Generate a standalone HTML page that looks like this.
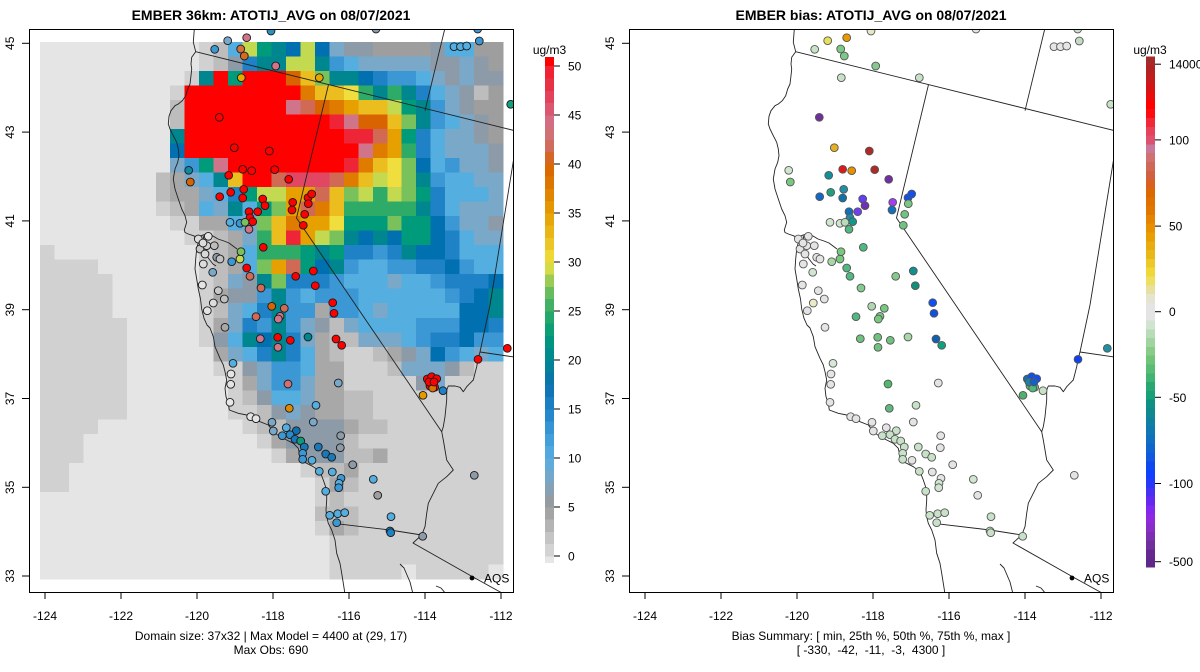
<!DOCTYPE html>
<html><head><meta charset="utf-8"><style>
html,body{margin:0;padding:0;background:#fff;}
svg{display:block;}
text{font-family:"Liberation Sans",Arial,sans-serif;fill:#000;}
</style></head><body>
<svg id="s" xmlns="http://www.w3.org/2000/svg" width="1200" height="672" viewBox="0 0 1200 672">
<defs><clipPath id="clipL"><rect x="29" y="29" width="484" height="563"/></clipPath></defs>
<rect width="1200" height="672" fill="#fff"/>
<g clip-path="url(#clipL)"><g id="grid" shape-rendering="crispEdges"></g><g id="linesL"></g><g id="dotsL"></g></g>
<g transform="translate(600,0)" clip-path="url(#clipL)"><g id="linesR"></g><g id="dotsR"></g></g>
<g id="aqs"></g>
<rect x="29.5" y="29.5" width="484" height="563" fill="none" stroke="#000" stroke-width="1"/>
<rect x="629.5" y="29.5" width="484" height="563" fill="none" stroke="#000" stroke-width="1"/>
<g id="ticks" stroke="#000" stroke-width="1"></g>
<g id="cbL" shape-rendering="crispEdges"></g>
<g id="cbR" shape-rendering="crispEdges"></g>
<text x="271" y="20" font-size="14" font-weight="bold" text-anchor="middle">EMBER 36km: ATOTIJ_AVG on 08/07/2021</text>
<text x="871" y="20" font-size="14" font-weight="bold" text-anchor="middle">EMBER bias: ATOTIJ_AVG on 08/07/2021</text>
<g font-size="12" text-anchor="middle">
<text x="45" y="620">-124</text><text x="121" y="620">-122</text><text x="197" y="620">-120</text><text x="273" y="620">-118</text><text x="349" y="620">-116</text><text x="425" y="620">-114</text><text x="501" y="620">-112</text>
<text x="645" y="620">-124</text><text x="721" y="620">-122</text><text x="797" y="620">-120</text><text x="873" y="620">-118</text><text x="949" y="620">-116</text><text x="1025" y="620">-114</text><text x="1101" y="620">-112</text>
<text transform="translate(14,43.3) rotate(-90)">45</text><text transform="translate(14,132.1) rotate(-90)">43</text><text transform="translate(14,220.9) rotate(-90)">41</text><text transform="translate(14,309.7) rotate(-90)">39</text><text transform="translate(14,398.5) rotate(-90)">37</text><text transform="translate(14,487.3) rotate(-90)">35</text><text transform="translate(14,576) rotate(-90)">33</text>
<text transform="translate(614,43.3) rotate(-90)">45</text><text transform="translate(614,132.1) rotate(-90)">43</text><text transform="translate(614,220.9) rotate(-90)">41</text><text transform="translate(614,309.7) rotate(-90)">39</text><text transform="translate(614,398.5) rotate(-90)">37</text><text transform="translate(614,487.3) rotate(-90)">35</text><text transform="translate(614,576) rotate(-90)">33</text>
<text x="271" y="640">Domain size: 37x32 | Max Model = 4400 at (29, 17)</text>
<text x="271" y="654">Max Obs: 690</text>
<text x="871" y="640">Bias Summary: [ min, 25th %, 50th %, 75th %, max ]</text>
<text x="871" y="654" style="white-space:pre">[ -330,  -42,  -11,  -3,  4300 ]</text>
<text x="549.5" y="54">ug/m3</text>
<text x="1150" y="54">ug/m3</text>
</g>
<g font-size="12">
<text x="484" y="582.5">AQS</text><text x="1084" y="582.5">AQS</text>
<text x="568" y="70.5">50</text><text x="568" y="119.5">45</text><text x="568" y="168.5">40</text><text x="568" y="217.5">35</text><text x="568" y="266.5">30</text><text x="568" y="315.5">25</text><text x="568" y="364.5">20</text><text x="568" y="413.5">15</text><text x="568" y="462.5">10</text><text x="568" y="511.5">5</text><text x="568" y="560.5">0</text>
<text x="1169" y="68.5">14000</text><text x="1169" y="144.5">100</text><text x="1169" y="230.5">50</text><text x="1169" y="316">0</text><text x="1169" y="402">-50</text><text x="1169" y="488">-100</text><text x="1169" y="566">-500</text>
</g>
</svg>
<script>
(function(){
var P={L:'#e5e5e5',W:'#d1d1d1',H:'#bdbdbd',M:'#a8a8a8',N:'#9e9e9e',S:'#8d9ba8',a:'#79a8c8',b:'#55aee0',c:'#3b98d5',d:'#1f82c6',e:'#0070b1',t:'#00868f',u:'#009b7a',g:'#2fab68',h:'#79c15a',i:'#c3d950',y:'#efde3e',j:'#ebbd1f',o:'#e6a000',p:'#df7c00',q:'#d86300',r:'#d06a55',s:'#cf7489',v:'#e14763',w:'#ee2537',R:'#ff0000'};
var G=[
"LLLLLLLLLLLWHbiuteieaSSNNNNSbbNN",
"LLLLLLLLLLLWHSdttiitcbaaaaaSSaSN",
"LLLLLLLLLLWtRuRRRqjhttedccbaSaSS",
"LLLLLLLLLWRRRRRRRRpjjygtgtdbaSHN",
"LLLLLLLLLHRRRRRRRsrqpojjiutcaSNN",
"LLLLLLLLLHRRRRRRRRRRwsqqjhtcbaSN",
"LLLLLLLLLtRRRRRRRRRRRwwroudbaaSN",
"LLLLLLLLLeRRRRRRRRRRRRspogdbaaaS",
"LLLLLLLLLacusRRRRRRRRwpjyhebcaaS",
"LLLLLLLLHMabtjRRrvvvrpjiyhtcbbaa",
"LLLLLLLLHMMabduiioorjhigihudbbba",
"LLLLLLLLWHMbatbuhorpjgggggtdbaaa",
"LLLLLLLLLWWMMbahjpooyuuuhuuecaaS",
"LLLLLLLLLLWWHMagjwoihteteuuedbaa",
"WLLLLLLLLLLWHMbgggutuddcdteedbbb",
"WWWWLLLLLLLWHMbhoruetcbbccddecbb",
"WWWWWLLLLLLWHaSthdddcbbbabbcddde",
"WWWWWLLLLLLWMSSctcbcccbbbbbbcdet",
"WWWWWLLLLLLWHabdtccMccbabbbbbeet",
"WWWWWWLLLLLWMadctcaSHabbbbccceed",
"WWWWWWLLLLLWSbtetdaMHHaaabcddecc",
"WWWWWWLLLLLLMabdtdbMHWWHMSaecbab",
"WWWWWWLLLLLLWWSaccbMMWWWHaaaSHWW",
"WWWWWWLLLLLLLWMaccaMMWWWWWSaWWWW",
"WWWWWWLLLLLLLWHSbbaMMHHWWWWWWWWW",
"WWWWWWLLLLLLLWWHSaSMMHHWWWWWWWWW",
"WWWWLLLLLLLLLLWHHSSSSMHHWWWWWWWW",
"WWWLLLLLLLLLLLLWMSSSSHWWWWWWWWWW",
"WWWLLLLLLLLLLLLLWMSSSHHMWWWWWWWW",
"WWLLLLLLLLLLLLLLLLWHHMWWWWWWWWWW",
"WWLLLLLLLLLLLLLLLLLWMHWWWWWWWWWW",
"LLLLLLLLLLLLLLLLLLLWHWWWWWWWWWWW",
"LLLLLLLLLLLLLLLLLLLHHHWWWWWWWWWW",
"LLLLLLLLLLLLLLLLLLLWMHWWWWWWWWWW",
"LLLLLLLLLLLLLLLLLLLLWWWWWWWWWWWW",
"LLLLLLLLLLLLLLLLLLLLWWWWWWWWWWWW",
"LLLLLLLLLLLLLLLLLLLLWWWWWLWWWWWL"];
var cw=463/32,ch=537/37,s='';
for(var r=0;r<G.length;r++){var row=G[r];for(var c=0;c<32;c++){var k=row.charAt(c)||'W';s+='<rect x="'+(40+c*cw).toFixed(2)+'" y="'+(42+r*ch).toFixed(2)+'" width="'+(cw+0.4).toFixed(2)+'" height="'+(ch+0.4).toFixed(2)+'" fill="'+P[k]+'"/>';}}
document.getElementById('grid').innerHTML=s;

function pl(a){return '<polyline fill="none" stroke="#222" stroke-width="0.9" stroke-linejoin="round" points="'+a.map(function(p){return p[0]+','+p[1];}).join(' ')+'"/>';}
var L=[
[[194.3,29],[193.3,42.3],[195.7,51.7],[191.7,57.3],[191,64],[191.7,69],[191,75.7],[190,84],[187.7,89],[185.7,95.7],[182.3,100.7],[178.3,104],[175,105.7],[171,110.7],[169,116.3],[168.3,124],[170,129],[173.3,135.7],[176.7,142.3],[178.3,149],[179,155.7],[177.7,162.3],[175,169],[173.3,179],[175,189],[178.3,199],[181.7,209],[185,215.7],[186.7,222.3],[184.3,230],[185,232.5],[188.3,234],[193.3,235.7],[196.7,237.3],[198.3,242.3],[196.7,249],[195.7,259],[195,269],[196.7,279],[198.3,289],[200.5,299],[201.7,309],[204,318.3],[207,325],[210,328],[213.3,336.7],[215,346.7],[220,358.3],[223.3,365],[225,371.7],[226.7,380],[225,388.3],[226,396.7],[228.3,403.3],[229.3,410],[238.3,413.3],[246.7,415],[251.7,418.3],[260,421.7],[268.3,425],[273.3,431.7],[280,436.7],[286.7,440],[293.3,443.3],[298.3,448.3],[299.3,453.3],[300,460],[306.7,463.3],[313.3,466.7],[320,471.7],[323.3,480],[326.7,490],[326.7,500],[326,510],[326.7,516.7],[328.3,523.3],[331.7,530],[335,540],[336.7,553.3],[340,563.3],[341.7,573.3],[343.3,583.3],[345,594]],
[[196.7,237.3],[203,235],[208,233.5],[213,236],[218,239],[224,241],[229,243],[233,246],[237,249]],
[[198.3,242.3],[202,247],[205,253],[209,259],[213,264],[216,266]],
[[203,235],[204,240],[206,244]],
[[195.7,51.7],[514,130.5]],
[[445,28],[425,110.7]],
[[328.5,84.6],[296.5,218],[441.7,431.7]],
[[514,157],[490,305],[480,352]],
[[480,352],[514,357]],
[[480,352],[478.3,358.3],[476.7,366.7],[473.3,380],[466.7,386.7],[463.3,391.7],[460,387.3],[455,386],[448.3,386],[446.7,390],[446.7,400],[445,416.7],[443.3,426.7],[441.7,431.7],[443.3,440],[445,450],[446.7,460],[453.3,470],[446.7,476.7],[438.3,483.3],[433.3,493.3],[428.3,503.3],[426.7,513.3],[425,526.7],[421.7,535]],
[[333.3,523.3],[390,530],[421.7,535]],
[[421.7,535],[413,543],[473,577],[502,593]],
[[400,564],[404,568],[407,575],[410,582],[413,594]],
[[436,586],[441,588],[446,594]]];
var ls=L.map(pl).join('');
document.getElementById('linesL').innerHTML=ls;
document.getElementById('linesR').innerHTML=ls;

var D=[
[227.7,40.7,'#79a8c8','#e8e05a'],[246.7,37.7,'#cf7489','#e89a00'],[271,31,'#2a90c0','#e8e6c4'],[214.7,49.3,'#3b98d5','#c8e2c8'],
[240.7,49,'#d4703c','#7cc886'],[244.3,56,'#d86a20','#7cc886'],[275.7,66,'#cf7489','#84c98e'],[241.3,77.7,'#e6a800','#c8e2c8'],
[319.3,77.7,'#e6a800','#c8e2c8'],[376,29,'#8d9ba8','#e4e4e4'],[477.7,29,'#3b98d5','#c8e2c8'],[454,46.7,'#55aee0','#e6e6e6'],
[460.5,46.7,'#55aee0','#e6e6e6'],[466.7,46,'#55aee0','#e6e6e6'],[479.3,41,'#3b98d5','#c4dcc4'],[510.7,104.3,'#10a080','#c8e2c8'],
[219.3,117.3,'#ff0000','#70309c'],[234.3,147.7,'#ff0000','#e8b020'],[269.3,151,'#ff0000','#b02828'],[188.7,170.3,'#1088a0','#d0e6d0'],
[190.3,182,'#d86300','#78c880'],[242.7,169.3,'#ff0000','#e01818'],[251.7,170.7,'#ff0000','#e89000'],[274.7,169.7,'#ff0000','#b02828'],
[228.7,175.3,'#ff0000','#10909a'],[288.7,179.3,'#ff0000','#7030a0'],[219.7,196.7,'#ff0000','#1068c8'],[230.7,192.3,'#ff0000','#20a080'],
[243.7,189.3,'#ff0000','#2090a8'],[242.7,198,'#ff0000','#1070a8'],[262.7,199,'#ff0000','#6040f0'],[265,205.7,'#ff0000','#7030b0'],
[257.7,211.7,'#ff0000','#7040f0'],[249,211.7,'#ff0000','#1070c0'],[250,217.7,'#ff0000','#2088a8'],[252.7,221.7,'#ff0000','#109888'],
[230,222.3,'#55aee0','#d0e6d0'],[240,223.3,'#3b98d5','#d0e6d0'],[245,222.3,'#79c15a','#b8dcb8'],[249,229.3,'#cf7489','#50b880'],
[292.7,202.3,'#ff0000','#a040f0'],[292,210,'#ff0000','#1070c0'],[308,197.7,'#ff0000','#1050f0'],[311.7,194,'#ff0000','#1050f0'],
[308.3,203.7,'#ff0000','#78c880'],[304.7,214.3,'#ff0000','#70c480'],[303.3,225.3,'#ff0000','#70c480'],
[198.3,239,'#dcdcdc','#e4e4e4'],[208.3,236.3,'#e4e4e4','#e4e4e4'],[200,249,'#c8c8c8','#e4e4e4'],[206.7,245.7,'#d0d0d0','#e4e4e4'],
[214.3,245.7,'#bcbcbc','#e4e4e4'],[216.7,257.3,'#8d9ba8','#e4e4e4'],[220,259,'#c0c0c0','#e4e4e4'],[203.3,264,'#dcdcdc','#e4e4e4'],
[212.7,272.3,'#79a8c8','#d0e6d0'],[202.3,285,'#e4e4e4','#e4e4e4'],[218.3,290.7,'#c8c8c8','#e4e4e4'],[224.3,299,'#c0c0c0','#e4e4e4'],
[213.3,303,'#dcdcdc','#ecebc8'],[207.3,310.7,'#e4e4e4','#e4e4e4'],[225,327.3,'#a8a8a8','#e4e4e4'],[203,243,'#dcdcdc','#e4e4e4'],[205,254,'#d8d8d8','#e4e4e4'],
[231.7,261.7,'#3b98d5','#a8d8a8'],[240,259,'#c3d950','#78c880'],[241,251.7,'#79c15a','#78c880'],[246.7,268,'#ff0000','#50b880'],
[250,276.3,'#d06a55','#50b880'],[263.3,247.3,'#ff0000','#50b880'],[261,288,'#d06a55','#84c98e'],[295.7,276.3,'#ff0000','#84c98e'],
[313.3,271,'#ff0000','#109090'],[315.3,285.7,'#ff0000','#10907a'],[271.7,306.3,'#d86300','#b0d8b0'],[284.3,308.3,'#d06a55','#78c880'],
[280,316.3,'#cf7489','#78c880'],[278.3,319,'#cf7489','#78c880'],[256,316.7,'#d06a55','#50b880'],[332.7,302.7,'#ff0000','#1050f0'],
[334,313.3,'#ff0000','#1050e0'],[260.3,338.7,'#cf7489','#70c080'],[277.7,337.3,'#ff0000','#70c080'],[290.3,340.3,'#ff0000','#70c080'],
[308,337,'#00868f','#a8d8a8'],[278,347.3,'#cf7489','#70c080'],[336,339,'#ff0000','#1060b0'],[341.7,345.3,'#ff0000','#10a080'],
[233,363.3,'#55aee0','#d6e8d6'],[231,374,'#e4e4e4','#e4e4e4'],[230.7,384.3,'#e4e4e4','#e4e4e4'],[288,384,'#d07070','#50b870'],
[338.3,383,'#79a8c8','#e4e4e4'],[230,402.3,'#e8e8e8','#e4e4e4'],[289.3,408.3,'#e08800','#60b880'],[316,405.3,'#55aee0','#c8e2c8'],
[313.3,422,'#79a8c8','#e4e4e4'],[250.7,416.7,'#e4e4e4','#e4e4e4'],[256,418.7,'#e4e4e4','#e4e4e4'],[272,422.3,'#79a8c8','#e4e4e4'],
[273.3,431,'#79a8c8','#e4e4e4'],[286.3,427.7,'#55aee0','#e4e4e4'],[296.3,430.7,'#0f70b0','#c8e2c8'],[282.3,435.7,'#3b98d5','#c8e2c8'],
[290,434.7,'#2a8ccc','#c8e2c8'],[295,439.3,'#1a78b8','#c8e2c8'],[300.7,441,'#10997a','#c8e2c8'],[304.3,447,'#1a78b8','#c8e2c8'],
[302.7,453.3,'#3b98d5','#c8e2c8'],[302.7,459.3,'#3b98d5','#c8e2c8'],[312,460.3,'#55aee0','#e4e4e4'],[318.3,447,'#1a78b8','#c8e2c8'],
[325.7,454,'#1a78b8','#c8e2c8'],[331.7,457.3,'#1a78b8','#c8e2c8'],[340.7,435.7,'#8d9ba8','#e4e4e4'],[340.3,447.7,'#8d9ba8','#e4e4e4'],
[352.7,464.7,'#8d9ba8','#e4e4e4'],[319.3,471.3,'#55aee0','#c8e2c8'],[332.3,472,'#55aee0','#e4e4e4'],[341,478.3,'#3b98d5','#e4e4e4'],
[339,483.3,'#55aee0','#d0e6d0'],[338.7,487.7,'#3b98d5','#d0e6d0'],[373.3,479.3,'#55aee0','#d0e6d0'],[377.7,495.3,'#9e9e9e','#e4e4e4'],
[325.7,491.3,'#55aee0','#c8e2c8'],[329.7,515.3,'#55aee0','#c8e2c8'],[337.7,513.7,'#55aee0','#c8e2c8'],[344.7,512.7,'#55aee0','#c8e2c8'],
[336.7,522.7,'#3b98d5','#c8e2c8'],[391,516.7,'#55aee0','#c8e2c8'],[390,531,'#1f82c6','#c8e2c8'],[390.7,532.7,'#1f82c6','#c8e2c8'],
[422.7,536.3,'#8d9ba8','#c8e2c8'],[423,395.3,'#e69a00','#50b070'],[443,390.7,'#1f82c6','#c8e2c8'],[430,386,'#ff0000','#60b880'],
[434.7,387.3,'#ff0000','#60b880'],[432.7,388,'#e07000','#50b878'],[427.3,379,'#ff0000','#1070b0'],[431.7,376.7,'#ff0000','#1050f0'],
[436.7,378.7,'#ff0000','#1050f0'],[429,382,'#ff0000','#2080a0'],[434,382,'#ff0000','#1060d0'],[478,359.3,'#ff0000','#1040f0'],
[507.3,348.3,'#ff0000','#2090a0'],[474.3,475.3,'#8d9ba8','#e4e4e4']];
var dl='',dr='';
D.forEach(function(d){dl+='<circle cx="'+d[0]+'" cy="'+d[1]+'" r="3.9" fill="'+d[2]+'" stroke="#1a1a1a" stroke-width="0.9"/>';dr+='<circle cx="'+d[0]+'" cy="'+d[1]+'" r="3.9" fill="'+d[3]+'" stroke="#555" stroke-width="0.9"/>';});
document.getElementById('dotsL').innerHTML=dl;
document.getElementById('dotsR').innerHTML=dr;
document.getElementById('aqs').innerHTML='<circle cx="472" cy="578" r="2.4" fill="#000"/><circle cx="1072" cy="578" r="2.4" fill="#000"/>';

var t='';
[45,121,197,273,349,425,501].forEach(function(x){t+='<line x1="'+x+'" y1="592" x2="'+x+'" y2="599"/><line x1="'+(x+600)+'" y1="592" x2="'+(x+600)+'" y2="599"/>';});
[43.3,132.1,220.9,309.7,398.5,487.3,576].forEach(function(y){t+='<line x1="22" y1="'+y+'" x2="29" y2="'+y+'"/><line x1="622" y1="'+y+'" x2="629" y2="'+y+'"/>';});
[66,115,164,213,262,311,360,409,458,507,556].forEach(function(y){t+='<line x1="554" y1="'+y+'" x2="560" y2="'+y+'"/>';});
[64.2,139.9,226.1,311.7,397.3,483.5,561.7].forEach(function(y){t+='<line x1="1155" y1="'+y+'" x2="1161" y2="'+y+'"/>';});
document.getElementById('ticks').innerHTML=t;

function hx(h){return [parseInt(h.substr(1,2),16),parseInt(h.substr(3,2),16),parseInt(h.substr(5,2),16)];}
var stops=[[0,'#dadada'],[2.5,'#bcbcbc'],[5,'#9c9c9c'],[6.25,'#8e9aa6'],[7.5,'#7ea6c2'],[10,'#56ade0'],[12.5,'#3c9ad6'],[15,'#1e82c8'],[17.5,'#0a70b0'],[20,'#008694'],[22.5,'#009a78'],[25,'#2eab68'],[27.5,'#7cc15a'],[29,'#c4d94e'],[30,'#f0df3c'],[32.5,'#ebbd1f'],[35,'#e6a000'],[37.5,'#df7c00'],[40,'#d86300'],[41.5,'#d06a55'],[44,'#cf7489'],[46.5,'#e14763'],[49,'#ee2537'],[50,'#f02030']];
function col(v){for(var k=0;k<stops.length-1;k++){if(v<=stops[k+1][0]){var f=(v-stops[k][0])/(stops[k+1][0]-stops[k][0]);var A=hx(stops[k][1]),B=hx(stops[k+1][1]);return 'rgb('+A.map(function(x,n){return Math.round(x+(B[n]-x)*f);}).join(',')+')';}}return stops[stops.length-1][1];}
var cb='<rect x="545" y="57" width="9" height="9.5" fill="#ff0000"/><rect x="545" y="556" width="9" height="7" fill="#e6e6e6"/>';
for(var i=0;i<40;i++){var v=1.25*i+0.625;var y0=556-9.8*1.25*(i+1);cb+='<rect x="545" y="'+y0.toFixed(2)+'" width="9" height="12.6" fill="'+col(v)+'"/>';}
document.getElementById('cbL').innerHTML=cb;
var RC=['#a52a2a','#b22222','#c41c1c','#d41414','#e80c0c','#ff0000','#ff0a10','#f02838','#e84058','#dc5070','#c87898','#d07070','#d06858','#d06040','#d86020','#dc6800','#e07000','#e07800','#e48400','#e89000','#e8a000','#e8ac10','#e8b818','#ecc828','#f0d838','#ece060','#e8e0a0','#e4e4d0','#e4e4e4','#e4e4e4','#d0e4d0','#b8dcb8','#a0d4a0','#88cc88','#70c478','#58bc74','#40b470','#28a870','#18a078','#109080','#10888f','#1080a0','#1078b0','#1070c0','#1064d0','#1058e0','#1048f0','#1040ff','#2838f8','#4830f0','#6428f0','#8028f0','#9028e0','#8a2cc8','#7c30b0','#70309c','#642890','#602888'];
var cr='';
RC.forEach(function(c,k){var y0=30+(75+25*k)/2.84;cr+='<rect x="1146" y="'+y0.toFixed(2)+'" width="9" height="'+(25/2.84+0.5).toFixed(2)+'" fill="'+c+'"/>';});
document.getElementById('cbR').innerHTML=cr;
})();
</script>
</body></html>
